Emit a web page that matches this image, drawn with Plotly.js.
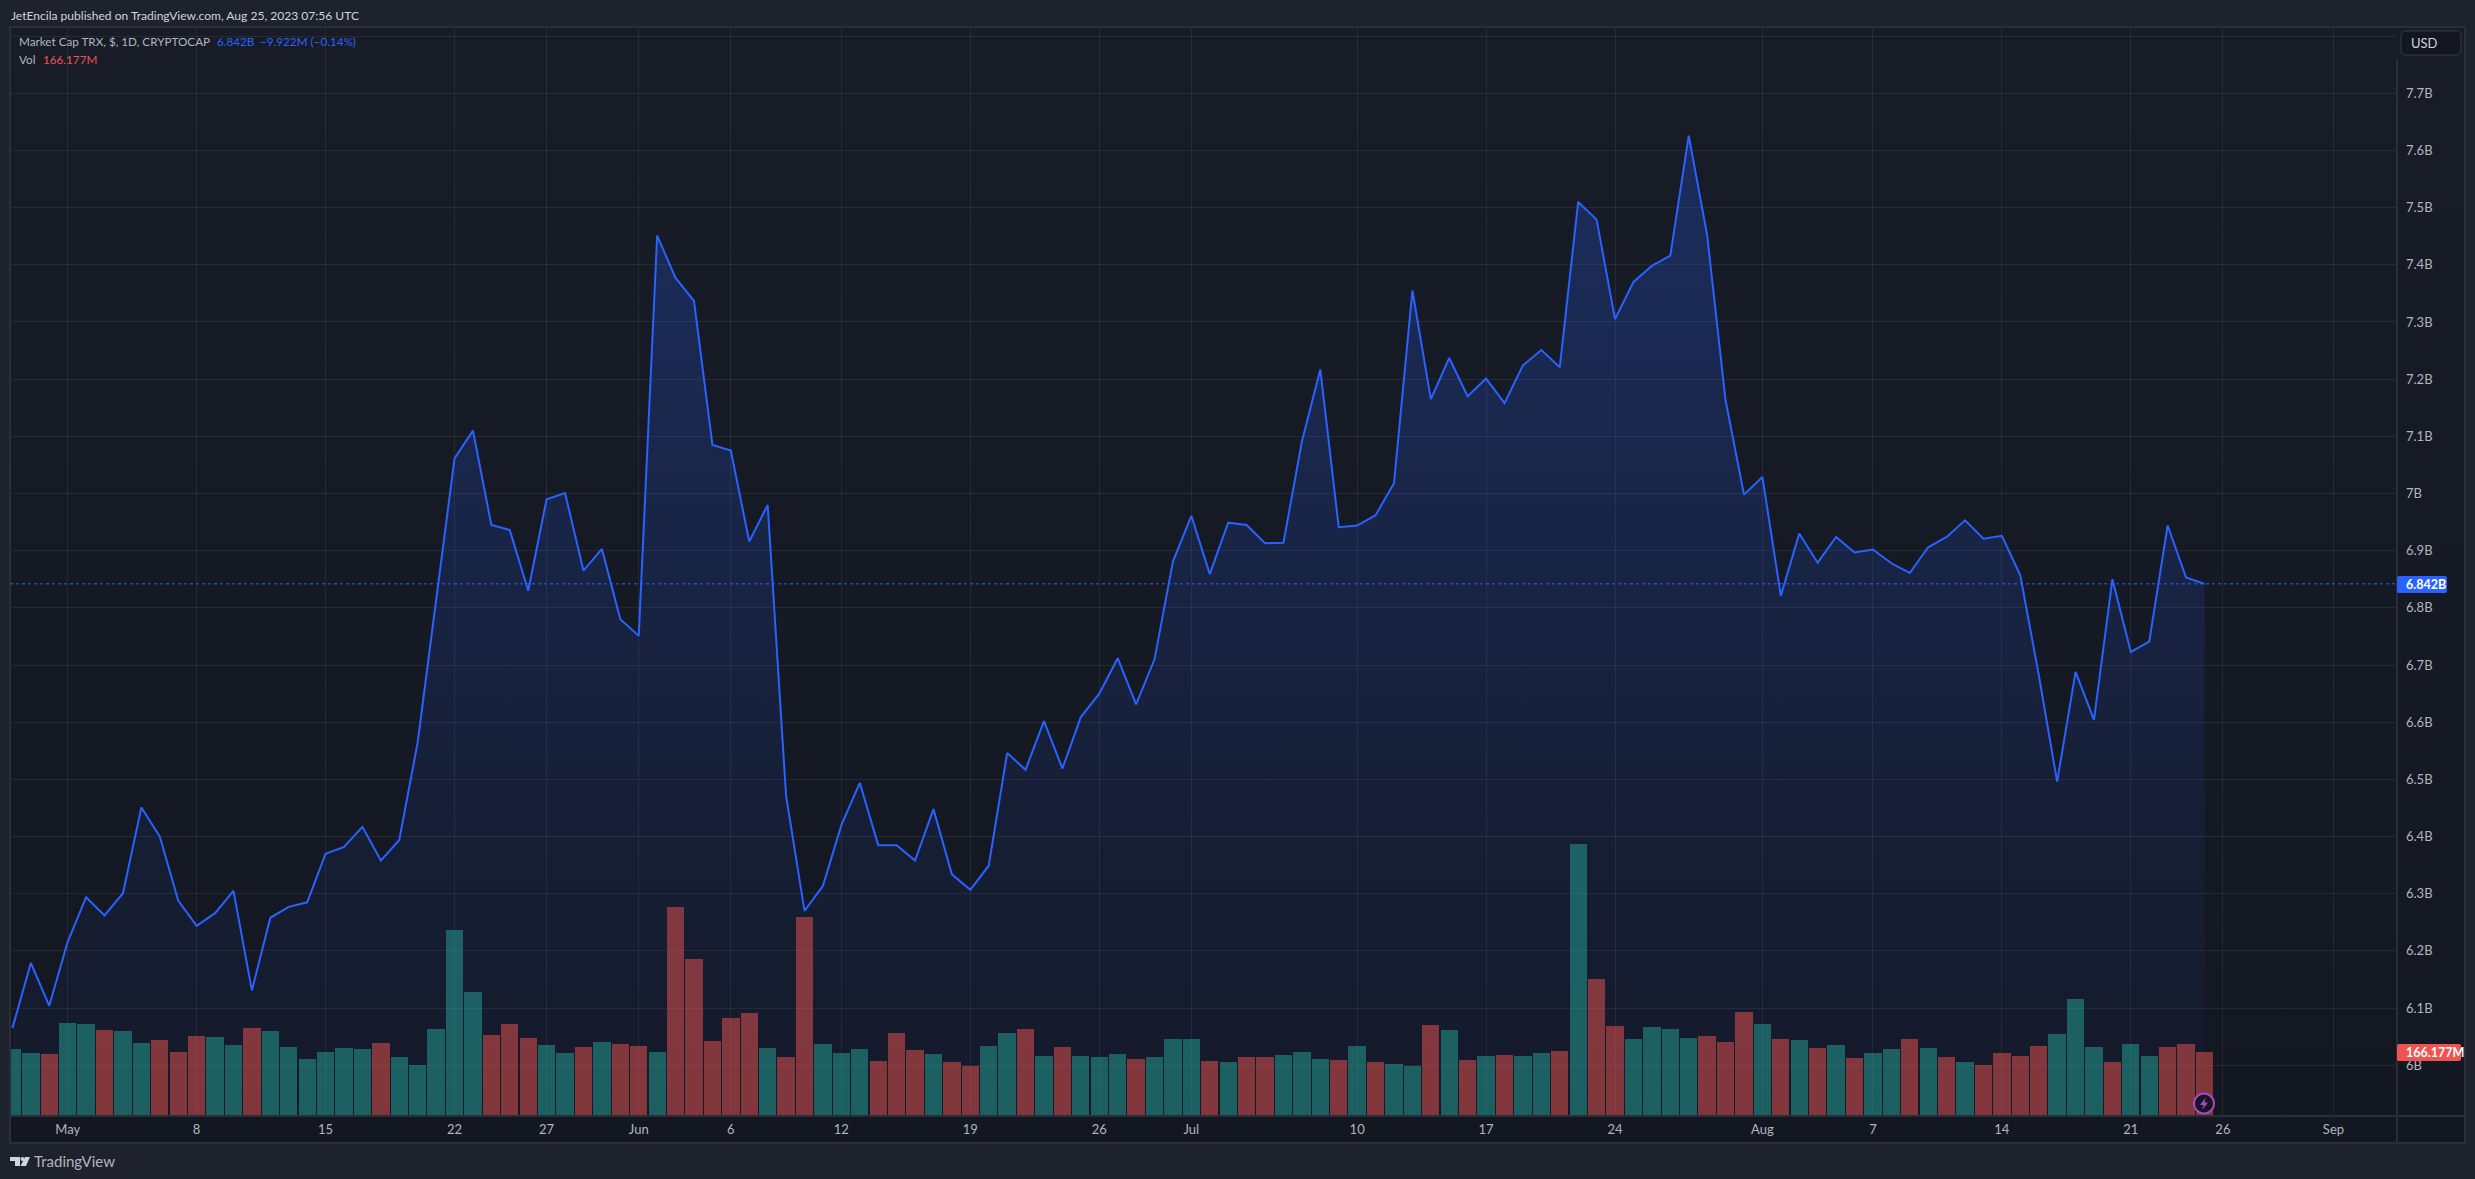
<!DOCTYPE html>
<html>
<head>
<meta charset="utf-8">
<script src="https://cdn.plot.ly/plotly-3.0.1.min.js"></script>
<style>
html,body{margin:0;padding:0;background:#1e222d;width:2475px;height:1179px;overflow:hidden}
#pane{position:absolute;left:10px;top:27px;width:2455px;height:1116px;background:linear-gradient(#181c27,#131722)}
#chart{position:absolute;left:0;top:0;width:2475px;height:1179px}
</style>
</head>
<body>
<div id="pane"></div>
<div id="chart"></div>
<script>
// Market cap, billions of USD, one value per day from 2023-04-28
const priceB = [6.065,6.179,6.104,6.216,6.294,6.262,6.301,6.451,6.400,6.288,6.244,6.266,6.305,6.131,6.258,6.277,6.285,6.370,6.382,6.417,
6.358,6.394,6.565,6.817,7.0615,7.110,6.945,6.936,6.830,6.990,7.001,6.865,6.903,6.780,6.751,7.451,7.377,7.337,7.085,7.075,
6.916,6.980,6.471,6.270,6.314,6.420,6.494,6.385,6.385,6.358,6.448,6.334,6.307,6.349,6.546,6.517,6.602,6.519,6.609,6.650,
6.712,6.631,6.710,6.881,6.961,6.859,6.949,6.945,6.913,6.914,7.091,7.217,6.941,6.944,6.962,7.018,7.355,7.165,7.237,7.170,
7.201,7.158,7.224,7.251,7.221,7.510,7.479,7.305,7.370,7.398,7.416,7.626,7.452,7.163,6.998,7.029,6.821,6.930,6.879,6.924,
6.897,6.902,6.878,6.861,6.906,6.924,6.953,6.921,6.926,6.857,6.683,6.496,6.688,6.604,6.850,6.723,6.741,6.944,6.853,6.842];
// Volume, millions of USD
const volumeM = [174,164,161,241,239,223,221,190,197,166,208,205,184,228,221,179,148,166,177,174,
190,153,132,226,483,322,210,239,203,184,164,179,192,187,182,166,543,408,195,254,
267,177,153,517,187,164,174,143,216,171,161,140,131,182,216,226,156,179,156,153,
161,148,153,200,200,143,140,153,153,158,166,148,145,182,140,135,131,236,223,145,
156,158,156,164,169,706,356,234,200,231,226,203,208,192,270,239,200,197,177,184,
151,164,174,200,177,153,140,132,164,156,182,213,304,179,140,187,156,179,187,166];
const volumeDir = "GGRGGRGGRRRGGRGGGGGGRGGGGGRRRGGRGRRGRRRRRGRRGGGRRRGRRGGRGRGGGRGGGRGRRGGGRGRGGRGRGRGGRGRRGGGGRRRGRGRGRGGRGRGRRRRGGGRGGRR";
const tickDates = ["2023-05-01","2023-05-08","2023-05-15","2023-05-22","2023-05-27","2023-06-01","2023-06-06","2023-06-12","2023-06-19","2023-06-26","2023-07-01","2023-07-10","2023-07-17","2023-07-24","2023-08-01","2023-08-07","2023-08-14","2023-08-21","2023-08-26","2023-09-01"];
const tickDateLabels = ["May","8","15","22","27","Jun","6","12","19","26","Jul","10","17","24","Aug","7","14","21","26","Sep"];
const priceTicks = [6,6.1,6.2,6.3,6.4,6.5,6.6,6.7,6.8,6.9,7,7.1,7.2,7.3,7.4,7.5,7.6,7.7,7.8];
const priceTickLabels = ["6B","6.1B","6.2B","6.3B","6.4B","6.5B","6.6B","6.7B","6.8B","6.9B","7B","7.1B","7.2B","7.3B","7.4B","7.5B","7.6B","7.7B",""];
const lastPrice = 6.842;
const lastVolumeLabel = "166.177M";

const DAY = 86400000;
const dates = priceB.map((_, i) => new Date(Date.UTC(2023, 3, 28) + i * DAY).toISOString().slice(0, 10));
const W = 2475, H = 1179, L = 10, T = 27, R = 2397, B = 1116;
const FONT = 'Lato, "Noto Sans", sans-serif';
const px = x => (x - L) / (R - L), py = y => (B - y) / (B - T);
const P = (x, y) => px(x) + ',' + py(y);
const poly = pts => 'M' + pts.map(p => P(p[0], p[1])).join('L') + 'Z';
const rrect = (x0, y0, x1, y1, r) => 'M' + P(x0 + r, y0) + 'L' + P(x1 - r, y0) + 'Q' + P(x1, y0) + ' ' + P(x1, y0 + r) +
  'L' + P(x1, y1 - r) + 'Q' + P(x1, y1) + ' ' + P(x1 - r, y1) + 'L' + P(x0 + r, y1) + 'Q' + P(x0, y1) + ' ' + P(x0, y1 - r) +
  'L' + P(x0, y0 + r) + 'Q' + P(x0, y0) + ' ' + P(x0 + r, y0) + 'Z';

const up = 'rgba(38,166,154,0.5)', down = 'rgba(239,83,80,0.5)';
const traces = [
  { type: 'scatter', mode: 'lines', x: dates, y: priceB, yaxis: 'y', xaxis: 'x',
    line: { color: '#2962ff', width: 2 }, fill: 'tozeroy',
    fillgradient: { type: 'vertical', start: 5.9113, stop: 7.626,
      colorscale: [[0, 'rgba(41,98,255,0.03)'], [0.32, 'rgba(41,98,255,0.085)'], [0.73, 'rgba(41,98,255,0.19)'], [1, 'rgba(41,98,255,0.25)']] },
    hoverinfo: 'skip' },
  { type: 'bar', x: dates, y: volumeM, yaxis: 'y2', xaxis: 'x',
    marker: { color: volumeM.map((_, i) => volumeDir[i] === 'G' ? up : down), line: { width: 0 } },
    width: volumeM.map(() => 0.94 * DAY), hoverinfo: 'skip' }
];
const grid = 'rgba(240,243,250,0.07)';
const label = (x, y, text, color, size, anchor, weight) => ({
  xref: 'paper', yref: 'paper', x: px(x), y: py(y), text, showarrow: false, xanchor: anchor || 'left', yanchor: 'middle',
  xshift: -1, font: { family: FONT, size, color, weight: weight || 400 } });
const layout = {
  width: W, height: H, margin: { l: L, t: T, r: W - R, b: H - B, pad: 0 },
  paper_bgcolor: 'rgba(0,0,0,0)', plot_bgcolor: 'rgba(0,0,0,0)', showlegend: false, bargap: 0,
  xaxis: { type: 'date', range: ['2023-04-27 20:50', '2023-09-04 10:48'], tickmode: 'array', tickvals: tickDates, ticktext: tickDateLabels,
    showgrid: true, gridcolor: grid, gridwidth: 1, zeroline: false, showline: false, ticks: '', ticklabelstandoff: 4,
    tickfont: { family: FONT, size: 13, color: '#b2b5be' } },
  yaxis: { side: 'right', range: [5.9113, 7.8159], tickmode: 'array', tickvals: priceTicks, ticktext: priceTickLabels,
    showgrid: true, gridcolor: grid, gridwidth: 1, zeroline: false, showline: false, ticks: '', ticklabelstandoff: 8,
    tickfont: { family: FONT, size: 13, color: '#b2b5be' } },
  yaxis2: { overlaying: 'y', range: [0, 2827.6], visible: false, fixedrange: true },
  shapes: [
    { type: 'rect', xref: 'paper', yref: 'paper', x0: px(10), x1: px(2465), y0: py(1143), y1: py(27), line: { color: '#2a2e39', width: 2 } },
    { type: 'line', xref: 'paper', yref: 'paper', x0: px(10), x1: px(2465), y0: py(1116), y1: py(1116), line: { color: '#2a2e39', width: 2 } },
    { type: 'line', xref: 'paper', yref: 'paper', x0: px(2397), x1: px(2397), y0: py(59), y1: py(1143), line: { color: '#2a2e39', width: 2 } },
    { type: 'line', xref: 'paper', yref: 'y', x0: 0, x1: 1, y0: lastPrice, y1: lastPrice, line: { color: '#2962ff', width: 1, dash: 'dot' } },
    { type: 'path', xref: 'paper', yref: 'paper', path: rrect(2401, 31, 2461, 55, 5), fillcolor: '#131722', line: { color: '#363a45', width: 1 } },
    { type: 'path', xref: 'paper', yref: 'paper', path: rrect(2397, 576, 2447, 593, 2), fillcolor: '#2962ff', line: { width: 0 } },
    { type: 'path', xref: 'paper', yref: 'paper', path: rrect(2397, 1044, 2461, 1061, 2), fillcolor: '#f05350', line: { width: 0 } },
    { type: 'circle', xref: 'paper', yref: 'paper', x0: px(2194), x1: px(2214), y0: py(1113.5), y1: py(1093.5), fillcolor: '#131722', line: { color: '#ab47bc', width: 2 } },
    { type: 'path', xref: 'paper', yref: 'paper', path: poly([[2205.5, 1097.5], [2200, 1105], [2203.5, 1105], [2202, 1110], [2208, 1102.5], [2204.5, 1102.5]]), fillcolor: '#ab47bc', line: { width: 0 } },
    { type: 'path', xref: 'paper', yref: 'paper', path: poly([[10, 1157], [20, 1157], [20, 1166], [15, 1166], [15, 1161], [10, 1161]]), fillcolor: '#d1d4dc', line: { width: 0 } },
    { type: 'circle', xref: 'paper', yref: 'paper', x0: px(20.5), x1: px(24.5), y0: py(1161), y1: py(1157), fillcolor: '#d1d4dc', line: { width: 0 } },
    { type: 'path', xref: 'paper', yref: 'paper', path: poly([[25, 1157], [30, 1157], [26, 1166], [20.5, 1166]]), fillcolor: '#d1d4dc', line: { width: 0 } }
  ],
  annotations: [
    label(10, 15, 'JetEncila published on TradingView.com, Aug 25, 2023 07:56 UTC', '#d1d4dc', 12.05),
    label(18, 41, 'Market Cap TRX, $, 1D, CRYPTOCAP', '#b2b5be', 11.7),
    label(216, 41, '6.842B', '#2962ff', 11.7),
    label(259, 41, '\u22129.922M (\u22120.14%)', '#2962ff', 11.7),
    label(18, 59, 'Vol', '#b2b5be', 11.7),
    label(42, 59, '166.177M', '#f05350', 11.7),
    label(2410, 43, 'USD', '#d1d4dc', 13),
    label(2405, 584.5, '6.842B', '#ffffff', 12.5, 'left', 700),
    label(2405, 1052.5, lastVolumeLabel, '#ffffff', 12.5, 'left', 700),
    label(33, 1161, 'TradingView', '#b2b5be', 15)
  ]
};
Plotly.newPlot('chart', traces, layout, { staticPlot: true, displayModeBar: false });
</script>
</body>
</html>
